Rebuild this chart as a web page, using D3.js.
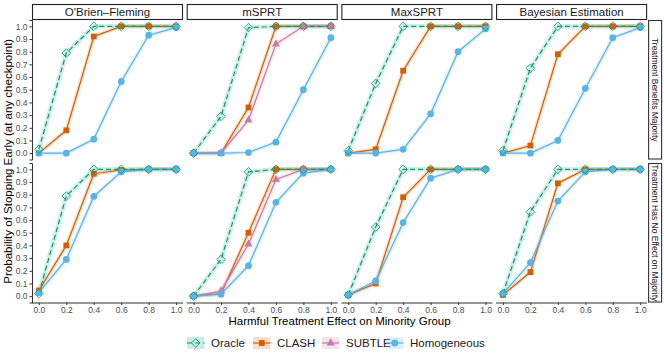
<!DOCTYPE html>
<html>
<head>
<meta charset="utf-8">
<script src="https://cdn.jsdelivr.net/npm/d3@7"></script>
<style>
  body { margin: 0; background: #fff; }
  svg { font-family: "Liberation Sans", Arial, sans-serif; }
</style>
</head>
<body>
<svg id="chart" width="664" height="356"></svg>
<script>
// facets
const methods = ["O'Brien\u2013Fleming", "mSPRT", "MaxSPRT", "Bayesian Estimation"];
const scenarios = ["Treatment Benefits Majority", "Treatment Has No Effect on Majority"];
const effects = [0, 0.2, 0.4, 0.6, 0.8, 1.0];
const yTicks = [0, 0.1, 0.2, 0.3, 0.4, 0.5, 0.6, 0.7, 0.8, 0.9, 1.0];
const seriesNames = ["Oracle", "CLASH", "SUBTLE", "Homogeneous"];

// values, one row per method (null = not shown)
const oracleBenefit = [
  [0.03, 0.79, 1.00, 1.00, 1.00, 1.00],
  [0.00, 0.29, 0.99, 1.00, 1.00, 1.00],
  [0.02, 0.55, 1.00, 1.00, 1.00, 1.00],
  [0.02, 0.67, 1.00, 1.00, 1.00, 1.00]
];
const clashBenefit = [
  [0.00, 0.18, 0.92, 1.00, 1.00, 1.00],
  [0.00, 0.00, 0.36, 1.00, 1.00, 1.00],
  [0.00, 0.03, 0.65, 1.00, 1.00, 1.00],
  [0.00, 0.06, 0.78, 1.00, 1.00, 1.00]
];
const subtleBenefit = [
  null,
  [0.00, 0.00, 0.26, 0.86, 1.00, 1.00],
  null,
  null
];
const homogBenefit = [
  [0.00, 0.00, 0.11, 0.565, 0.93, 0.99],
  [0.00, 0.00, 0.005, 0.087, 0.50, 0.91],
  [0.00, 0.00, 0.03, 0.31, 0.80, 0.98],
  [0.00, 0.00, 0.10, 0.51, 0.91, 0.99]
];
const oracleNoEffect = [
  [0.02, 0.79, 1.00, 1.00, 1.00, 1.00],
  [0.00, 0.29, 0.98, 1.00, 1.00, 1.00],
  [0.01, 0.545, 1.00, 1.00, 1.00, 1.00],
  [0.02, 0.665, 1.00, 1.00, 1.00, 1.00]
];
const clashNoEffect = [
  [0.045, 0.40, 0.965, 0.995, 1.00, 1.00],
  [0.00, 0.02, 0.50, 1.00, 1.00, 1.00],
  [0.01, 0.10, 0.78, 1.00, 1.00, 1.00],
  [0.01, 0.19, 0.89, 1.00, 1.00, 1.00]
];
const subtleNoEffect = [
  null,
  [0.00, 0.04, 0.41, 0.92, 1.00, 1.00],
  null,
  null
];
const homogNoEffect = [
  [0.027, 0.29, 0.786, 0.98, 1.00, 1.00],
  [0.00, 0.015, 0.24, 0.74, 0.97, 1.00],
  [0.01, 0.12, 0.58, 0.93, 1.00, 1.00],
  [0.02, 0.265, 0.75, 0.98, 1.00, 1.00]
];

const colors = { Oracle: "#009E73", CLASH: "#D55E00", SUBTLE: "#CC79A7", Homogeneous: "#56B4E9" };
const shapes = { Oracle: "diamond", CLASH: "square", SUBTLE: "triangle", Homogeneous: "circle" };
const valuesBy = {
  Oracle: [oracleBenefit, oracleNoEffect],
  CLASH: [clashBenefit, clashNoEffect],
  SUBTLE: [subtleBenefit, subtleNoEffect],
  Homogeneous: [homogBenefit, homogNoEffect]
};
// draw order (Oracle ends on top)
const drawOrder = ["CLASH", "SUBTLE", "Homogeneous", "Oracle"];

const svg = d3.select("#chart");

// layout
const panelLeft = 32, panelW = 151, panelGap = 3.7;
const rowTops = [20, 163], panelH = 139.5;
const stripH = 16, rightStripW = 14;
const axisCol = "#333333", tickCol = "#4d4d4d", textCol = "#1a1a1a";

const x = d3.scaleLinear().domain([-0.05, 1.05]).range([0, panelW]);
const y = d3.scaleLinear().domain([-0.05, 1.05]).range([panelH, 0]);

function symbolPath(shape) {
  if (shape === "diamond") return "M0,-4.3L4.3,0L0,4.3L-4.3,0Z";
  if (shape === "square") return d3.symbol(d3.symbolSquare, 34)();
  if (shape === "triangle") return d3.symbol(d3.symbolTriangle, 30)();
  return d3.symbol(d3.symbolCircle, 36)();
}

function drawMark(g, name, cx, cy) {
  const p = g.append("path")
    .attr("d", symbolPath(shapes[name]))
    .attr("transform", "translate(" + cx + "," + cy + ")");
  if (name === "Oracle") {
    p.attr("fill", "none").attr("stroke", colors[name]).attr("stroke-width", 0.9);
  } else {
    p.attr("fill", colors[name]);
  }
}

const line = d3.line().x((d, i) => x(effects[i])).y(d => y(d));

scenarios.forEach(function (scen, r) {
  methods.forEach(function (m, c) {
    const left = panelLeft + c * (panelW + panelGap);
    const g = svg.append("g").attr("transform", "translate(" + left + "," + rowTops[r] + ")");

    // series
    drawOrder.forEach(function (name) {
      const vals = valuesBy[name][r][c];
      if (!vals) return;
      // light band around the line
      g.append("path").datum(vals)
        .attr("d", line).attr("fill", "none")
        .attr("stroke", colors[name]).attr("stroke-opacity", 0.18)
        .attr("stroke-width", name === "Oracle" ? 4.5 : 4)
        .attr("stroke-linejoin", "round");
      g.append("path").datum(vals)
        .attr("d", line).attr("fill", "none")
        .attr("stroke", colors[name]).attr("stroke-width", 1.2)
        .attr("stroke-dasharray", name === "Oracle" ? "5,3" : null);
    });
    drawOrder.forEach(function (name) {
      const vals = valuesBy[name][r][c];
      if (!vals) return;
      vals.forEach((v, i) => drawMark(g, name, x(effects[i]), y(v)));
    });

    // left axis only on first column
    if (c === 0) {
      const ya = g.append("g").call(d3.axisLeft(y).tickValues(yTicks).tickFormat(d3.format(".1f")).tickSize(2.5).tickPadding(2));
      ya.select(".domain").attr("stroke", axisCol).attr("stroke-width", 1);
      ya.selectAll(".tick line").attr("stroke", axisCol);
      ya.selectAll("text").attr("fill", tickCol).style("font-size", "8.5px").style("font-family", "Liberation Sans, Arial, sans-serif");
    }
    // bottom axis only on last row
    if (r === scenarios.length - 1) {
      const xa = g.append("g").attr("transform", "translate(0," + panelH + ")")
        .call(d3.axisBottom(x).tickValues(effects).tickFormat(d3.format(".1f")).tickSize(2.5).tickPadding(2));
      xa.select(".domain").attr("stroke", axisCol).attr("stroke-width", 1)
        .attr("d", "M0,0.5H" + panelW);
      xa.selectAll(".tick line").attr("stroke", axisCol);
      xa.selectAll("text").attr("fill", tickCol).style("font-size", "8.5px").style("font-family", "Liberation Sans, Arial, sans-serif");
    }

    // top strips
    if (r === 0) {
      svg.append("rect").attr("x", left + 0.5).attr("y", rowTops[0] - stripH + 0.5)
        .attr("width", panelW - 1).attr("height", stripH - 1)
        .attr("fill", "#fff").attr("stroke", "#222").attr("stroke-width", 1.1);
      svg.append("text").attr("x", left + panelW / 2).attr("y", rowTops[0] - stripH / 2)
        .attr("dy", "0.36em").attr("text-anchor", "middle")
        .attr("fill", textCol).style("font-size", "11.5px").text(m);
    }
  });

  // right strips
  const sx = panelLeft + methods.length * panelW + (methods.length - 1) * panelGap + 1;
  svg.append("clipPath").attr("id", "clipStrip" + r)
    .append("rect").attr("x", sx).attr("y", rowTops[r]).attr("width", rightStripW).attr("height", panelH);
  svg.append("rect").attr("x", sx + 0.5).attr("y", rowTops[r] + 0.5)
    .attr("width", rightStripW - 1).attr("height", panelH - 1)
    .attr("fill", "#fff").attr("stroke", "#333").attr("stroke-width", 1.1);
  svg.append("g").attr("clip-path", "url(#clipStrip" + r + ")")
    .append("text")
    .attr("transform", "translate(" + (sx + rightStripW / 2) + "," + (rowTops[r] + panelH / 2) + ") rotate(90)")
    .attr("dy", "0.36em").attr("text-anchor", "middle")
    .attr("fill", textCol).style("font-size", "8.5px").text(scen);
});

// axis titles
const plotMid = panelLeft + (methods.length * panelW + (methods.length - 1) * panelGap) / 2;
svg.append("text").attr("x", plotMid).attr("y", 325)
  .attr("text-anchor", "middle").attr("fill", "#000").style("font-size", "11.5px")
  .text("Harmful Treatment Effect on Minority Group");
svg.append("text")
  .attr("transform", "translate(12," + (rowTops[0] + (rowTops[1] + panelH - rowTops[0]) / 2) + ") rotate(-90)")
  .attr("text-anchor", "middle").attr("fill", "#000").style("font-size", "11.5px")
  .text("Probability of Stopping Early (at any checkpoint)");

// legend
const legendX = [187, 253, 322, 386];
const legend = svg.append("g").attr("transform", "translate(0,343)");
seriesNames.forEach(function (name, i) {
  const lg = legend.append("g").attr("transform", "translate(" + legendX[i] + ",0)");
  lg.append("rect").attr("x", 0).attr("y", -6).attr("width", 17.5).attr("height", 12)
    .attr("fill", colors[name]).attr("fill-opacity", 0.2);
  lg.append("line").attr("x1", 0).attr("x2", 17.5).attr("y1", 0).attr("y2", 0)
    .attr("stroke", colors[name]).attr("stroke-width", 1.2)
    .attr("stroke-dasharray", name === "Oracle" ? "5,3" : null);
  drawMark(lg, name, 8.75, 0);
  lg.append("text").attr("x", 24).attr("y", 0).attr("dy", "0.36em")
    .attr("fill", textCol).style("font-size", "11.5px").text(name);
});
</script>
</body>
</html>
